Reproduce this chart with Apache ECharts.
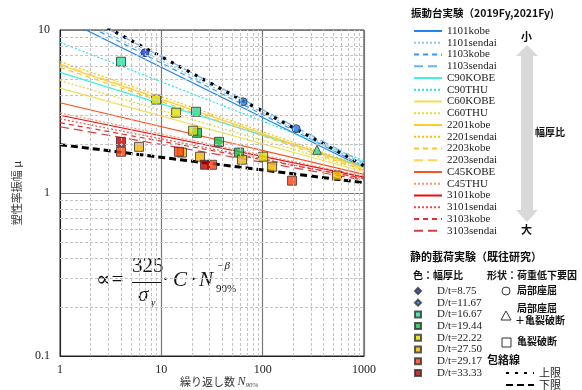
<!DOCTYPE html>
<html>
<head>
<meta charset="utf-8">
<script src="https://cdn.jsdelivr.net/npm/echarts@6.0.0/dist/echarts.min.js"></script>
<style>
html, body { margin: 0; padding: 0; background: #fff; }
#chart { width: 582px; height: 390px; }
</style>
</head>
<body>
<div id="chart"></div>
<script>
// shake table fits, mu = a * N^-b, stored as mu at N=1 and at N=1000
const lineNames = ['1101kobe', '1101sendai', '1103kobe', '1103sendai', 'C90KOBE', 'C90THU',
    'C60KOBE', 'C60THU', '2201kobe', '2201sendai', '2203kobe', '2203sendai',
    'C45KOBE', 'C45THU', '3101kobe', '3101sendai', '3103kobe', '3103sendai'];
const muAtN1 = [12.0, 13.5, 13.0, 14.5, 5.5, 8.4, 4.4, 4.9, 6.1, 6.4, 5.9, 6.2, 3.58, 3.1, 3.0, 2.85, 2.7, 2.55];
const muAtN1000 = [1.43, 1.5, 1.46, 1.53, 1.45, 1.58, 1.35, 1.38, 1.42, 1.45, 1.38, 1.4, 1.3, 1.27, 1.25, 1.22, 1.23, 1.2];
const lineColors = ['#1f86ee', '#8cc6f2', '#3a98f0', '#68b2f0', '#40f0e0', '#20e6e6',
    '#f0e050', '#e6dc30', '#ffcc30', '#ffc000', '#ffc428', '#ffd458',
    '#ff5020', '#ff9070', '#e81010', '#e85050', '#e03030', '#d04040'];
const lineDash = ['solid', [2, 2], [5, 4], [9, 5], 'solid', [2, 2],
    'solid', [2, 2], 'solid', [2, 2], [5, 4], [9, 5],
    'solid', [2, 2], 'solid', [2, 2], [5, 4], [9, 5]];

// envelopes
const upperEnv = [[1, 14.8], [1000, 1.47]];
const lowerEnv = [[1, 1.98], [1000, 1.157]];

// static tests: [N90%, mu, cause]  cause: b = local buckling, bf = buckling + fracture, f = fracture
const dtNames = ['D/t=8.75', 'D/t=11.67', 'D/t=16.67', 'D/t=19.44', 'D/t=22.22', 'D/t=27.50', 'D/t=29.17', 'D/t=33.33'];
const dt875 = [[6.9, 7.26, 'b']];
const dt1167 = [[64, 3.63, 'b'], [214, 2.48, 'b']];
const dt1667 = [[4.0, 6.39, 'f'], [22.0, 3.15, 'f'], [344, 1.84, 'bf']];
const dt1944 = [[22.5, 2.34, 'f'], [37.1, 2.06, 'f'], [58.5, 1.77, 'f']];
const dt2222 = [[8.87, 3.74, 'f'], [14.0, 3.11, 'f'], [20.6, 2.41, 'f'], [101, 1.67, 'f']];
const dt2750 = [[6.02, 1.92, 'f'], [16.0, 1.77, 'f'], [24.1, 1.67, 'f'], [62.6, 1.60, 'f'], [124, 1.45, 'f'], [542, 1.28, 'f']];
const dt2917 = [[4.0, 1.79, 'f'], [14.9, 1.79, 'f'], [31.7, 1.49, 'f'], [195, 1.19, 'f']];
const dt3333 = [[4.0, 2.06, 'f'], [27.0, 1.49, 'f']];
const dtGroups = [dt875, dt1167, dt1667, dt1944, dt2222, dt2750, dt2917, dt3333];
const dtColors = ['#1f3fe0', '#2a80e6', '#28e0a0', '#10c040', '#e0e000', '#f5b400', '#ff4010', '#c00000'];

const symbolOf = { b: 'circle', bf: 'triangle', f: 'rect' };
const sizeOf = { b: 8, bf: 9, f: 9 };

const serif = '"Liberation Serif", "DejaVu Serif", serif';
const cjk = '"Noto Sans CJK JP", sans-serif';

// minor grid positions
const xMinor = [];
const yMinor = [];
[1, 10, 100].forEach(d => { for (let k = 2; k <= 9; k++) xMinor.push(k * d); });
[0.1, 1].forEach(d => { for (let k = 2; k <= 9; k++) yMinor.push(+(k * d).toFixed(2)); });

const series = [];
series.push({
    type: 'line',
    data: [[1, 1]],
    symbol: 'none',
    lineStyle: { opacity: 0 },
    silent: true,
    z: 1,
    markLine: {
        silent: true,
        symbol: ['none', 'none'],
        label: { show: false },
        lineStyle: { type: [3, 2], color: '#c4c4c4', width: 1 },
        data: xMinor.map(v => ({ xAxis: v })).concat(yMinor.map(v => ({ yAxis: v }))),
        animation: false,
    },
});

lineNames.forEach((name, i) => {
    series.push({
        name: name,
        type: 'line',
        data: [[1, muAtN1[i]], [1000, muAtN1000[i]]],
        symbol: 'none',
        z: 2,
        lineStyle: { color: lineColors[i], width: 1.2, type: lineDash[i] },
        itemStyle: { color: lineColors[i] },
    });
});

series.push({
    name: '上限',
    type: 'line',
    data: upperEnv,
    symbol: 'none',
    z: 3,
    lineStyle: { color: '#000', width: 3.2, type: [3, 6] },
    itemStyle: { color: '#000' },
});
series.push({
    name: '下限',
    type: 'line',
    data: lowerEnv,
    symbol: 'none',
    z: 3,
    lineStyle: { color: '#000', width: 3, type: [7, 4] },
    itemStyle: { color: '#000' },
});

dtGroups.forEach((grp, i) => {
    series.push({
        name: dtNames[i],
        type: 'scatter',
        z: 4,
        data: grp.map(p => ({
            value: [p[0], p[1]],
            symbol: symbolOf[p[2]],
            symbolSize: sizeOf[p[2]],
        })),
        itemStyle: { color: dtColors[i], borderColor: '#333', borderWidth: 1 },
    });
});

const chart = echarts.init(document.getElementById('chart'));
chart.setOption({
    animation: false,
    backgroundColor: '#fff',
    grid: { left: 60, top: 30, width: 304, height: 326, show: true, borderColor: '#222', borderWidth: 1 },
    xAxis: {
        type: 'log',
        min: 1,
        max: 1000,
        logBase: 10,
        axisLine: { lineStyle: { color: '#222' } },
        axisTick: { show: false },
        axisLabel: { fontFamily: serif, fontSize: 12, color: '#222', margin: 8, formatter: v => String(v) },
        splitLine: { show: true, lineStyle: { color: '#777', width: 1.2 } },
    },
    yAxis: {
        type: 'log',
        min: 0.1,
        max: 10,
        logBase: 10,
        name: '塑性率振幅 μ',
        nameLocation: 'middle',
        nameGap: 38,
        nameRotate: 90,
        nameTextStyle: { fontFamily: cjk, fontSize: 11, color: '#333' },
        axisLine: { lineStyle: { color: '#222' } },
        axisTick: { show: false },
        axisLabel: { fontFamily: serif, fontSize: 12, color: '#222', margin: 10, formatter: v => String(v) },
        splitLine: { show: true, lineStyle: { color: '#777', width: 1.2 } },
    },
    legend: [
        {
            data: lineNames,
            orient: 'vertical',
            left: 413,
            top: 25,
            height: 240,
            padding: 0,
            itemWidth: 28,
            itemHeight: 8,
            itemGap: -0.25,
            selectedMode: false,
            itemStyle: { opacity: 0 },
            textStyle: { fontFamily: serif, fontSize: 11, lineHeight: 12, color: '#222' },
        },
        {
            data: dtNames.map((n, i) => ({ name: n, icon: i < 2 ? 'diamond' : 'rect' })),
            orient: 'vertical',
            left: 414,
            top: 285,
            height: 110,
            padding: 0,
            itemWidth: 6,
            itemHeight: 6,
            itemGap: -0.3,
            selectedMode: false,
            textStyle: { fontFamily: serif, fontSize: 11, lineHeight: 12, color: '#222', padding: [0, 0, 0, 11] },
        },
        {
            data: ['上限', '下限'],
            orient: 'vertical',
            left: 505,
            top: 367,
            height: 30,
            padding: 0,
            itemWidth: 28,
            itemHeight: 8,
            itemGap: 0,
            selectedMode: false,
            itemStyle: { opacity: 0 },
            textStyle: { fontFamily: cjk, fontSize: 11, lineHeight: 12, color: '#222' },
        },
    ],
    graphic: [
        // formula
        { type: 'text', left: 96, top: 270, style: { text: '∝=', font: 'italic 21px ' + serif, fill: '#111' } },
        { type: 'text', left: 132, top: 256, style: { text: '325', font: '21px ' + serif, fill: '#111' } },
        { type: 'rect', shape: { x: 132, y: 282, width: 29, height: 1 }, style: { fill: '#111' } },
        { type: 'text', left: 138, top: 285, style: { text: 'σ', font: 'italic 21px ' + serif, fill: '#111' } },
        { type: 'text', left: 151, top: 298, style: { text: 'y', font: 'italic 10px ' + serif, fill: '#111' } },
        { type: 'text', left: 162, top: 270, style: { text: '·', font: '21px ' + serif, fill: '#111' } },
        { type: 'text', left: 173, top: 270, style: { text: 'C', font: 'italic 21px ' + serif, fill: '#111' } },
        { type: 'text', left: 190, top: 270, style: { text: '·', font: '21px ' + serif, fill: '#111' } },
        { type: 'text', left: 199, top: 270, style: { text: 'N', font: 'italic 21px ' + serif, fill: '#111' } },
        { type: 'text', left: 217, top: 261, style: { text: '−β', font: 'italic 11px ' + serif, fill: '#111' } },
        { type: 'text', left: 216, top: 284, style: { text: '90%', font: '11px ' + serif, fill: '#111' } },
        // x axis title
        {
            type: 'text', left: 180, top: 376,
            style: {
                text: '{a|繰り返し数 }{b|N}{c|90%}',
                rich: {
                    a: { fontFamily: cjk, fontSize: 11, fill: '#333' },
                    b: { fontFamily: serif, fontStyle: 'italic', fontSize: 12, fill: '#333' },
                    c: { fontFamily: serif, fontStyle: 'italic', fontSize: 7, fill: '#333', padding: [6, 0, 0, 0] },
                },
            },
        },
        // legend titles
        { type: 'text', left: 411, top: 8, style: { text: '振動台実験（2019Fy,2021Fy)', font: 'bold 10.5px ' + cjk, fill: '#111' } },
        { type: 'text', left: 410, top: 251, style: { text: '静的載荷実験（既往研究）', font: 'bold 11px ' + cjk, fill: '#111' } },
        { type: 'text', left: 413, top: 270, style: { text: '色：幅厚比', font: 'bold 10px ' + cjk, fill: '#111' } },
        { type: 'text', left: 487, top: 270, style: { text: '形状：荷重低下要因', font: 'bold 10px ' + cjk, fill: '#111' } },
        { type: 'text', left: 487, top: 354, style: { text: '包絡線', font: 'bold 11px ' + cjk, fill: '#111' } },
        // shape key
        { type: 'circle', shape: { cx: 506, cy: 291, r: 4 }, style: { fill: '#fff', stroke: '#333', lineWidth: 1 } },
        { type: 'text', left: 517, top: 285, style: { text: '局部座屈', font: 'bold 10px ' + cjk, fill: '#111' } },
        { type: 'polygon', shape: { points: [[506, 311], [501, 320], [511, 320]] }, style: { fill: '#fff', stroke: '#333', lineWidth: 1 } },
        { type: 'text', left: 517, top: 303, style: { text: '局部座屈', font: 'bold 10px ' + cjk, fill: '#111' } },
        { type: 'text', left: 515, top: 315, style: { text: '＋亀裂破断', font: 'bold 10px ' + cjk, fill: '#111' } },
        { type: 'rect', shape: { x: 502, y: 338, width: 9, height: 9 }, style: { fill: '#fff', stroke: '#333', lineWidth: 1 } },
        { type: 'text', left: 517, top: 336, style: { text: '亀裂破断', font: 'bold 10px ' + cjk, fill: '#111' } },
        // width-thickness ratio arrow
        {
            type: 'polygon',
            shape: { points: [[527, 45], [538, 56], [533, 56], [533, 210], [538, 210], [527, 222], [516, 210], [521, 210], [521, 56], [516, 56]] },
            style: { fill: '#d9d9d9' },
        },
        { type: 'text', left: 521, top: 31, style: { text: '小', font: 'bold 11px ' + cjk, fill: '#111' } },
        { type: 'text', left: 521, top: 224, style: { text: '大', font: 'bold 11px ' + cjk, fill: '#111' } },
        { type: 'text', left: 535, top: 127, style: { text: '幅厚比', font: 'bold 10px ' + cjk, fill: '#111' } },
    ],
    series: series,
});
</script>
</body>
</html>
